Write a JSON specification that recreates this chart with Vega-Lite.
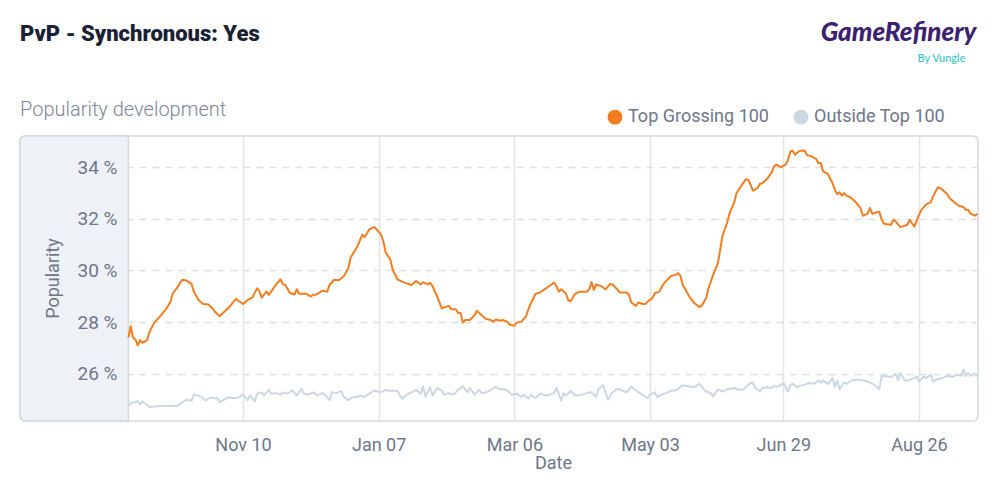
{
  "$schema": "https://vega.github.io/schema/vega-lite/v6.json",
  "width": 958,
  "height": 285,
  "autosize": {"type": "none"},
  "padding": {"left": 20, "top": 136, "right": 22, "bottom": 82},
  "background": "white",
  "title": {
    "text": "PvP - Synchronous: Yes",
    "subtitle": "Popularity development",
    "anchor": "start",
    "frame": "group",
    "font": "Roboto",
    "fontSize": 22,
    "fontWeight": 900,
    "color": "#1a2134",
    "subtitleFont": "Roboto",
    "subtitleFontSize": 20,
    "subtitleFontWeight": 300,
    "subtitleColor": "#7d8596",
    "subtitlePadding": 54,
    "offset": -102
  },
  "config": {
    "view": {"stroke": "#d3d8df", "strokeWidth": 1.5, "cornerRadius": 5},
    "font": "Roboto",
    "legend": {"labelFont": "Roboto"}
  },
  "datasets": {
    "top": [
      {"date": "2020-09-22", "series": "Top Grossing 100", "pct": 27.40},
      {"date": "2020-09-23", "series": "Top Grossing 100", "pct": 27.84},
      {"date": "2020-09-24", "series": "Top Grossing 100", "pct": 27.40},
      {"date": "2020-09-25", "series": "Top Grossing 100", "pct": 27.33},
      {"date": "2020-09-26", "series": "Top Grossing 100", "pct": 27.10},
      {"date": "2020-09-27", "series": "Top Grossing 100", "pct": 27.30},
      {"date": "2020-09-28", "series": "Top Grossing 100", "pct": 27.20},
      {"date": "2020-09-30", "series": "Top Grossing 100", "pct": 27.30},
      {"date": "2020-10-01", "series": "Top Grossing 100", "pct": 27.62},
      {"date": "2020-10-03", "series": "Top Grossing 100", "pct": 27.97},
      {"date": "2020-10-06", "series": "Top Grossing 100", "pct": 28.27},
      {"date": "2020-10-08", "series": "Top Grossing 100", "pct": 28.49},
      {"date": "2020-10-10", "series": "Top Grossing 100", "pct": 28.79},
      {"date": "2020-10-11", "series": "Top Grossing 100", "pct": 29.12},
      {"date": "2020-10-13", "series": "Top Grossing 100", "pct": 29.35},
      {"date": "2020-10-15", "series": "Top Grossing 100", "pct": 29.64},
      {"date": "2020-10-17", "series": "Top Grossing 100", "pct": 29.60},
      {"date": "2020-10-19", "series": "Top Grossing 100", "pct": 29.48},
      {"date": "2020-10-20", "series": "Top Grossing 100", "pct": 29.18},
      {"date": "2020-10-22", "series": "Top Grossing 100", "pct": 28.86},
      {"date": "2020-10-24", "series": "Top Grossing 100", "pct": 28.70},
      {"date": "2020-10-26", "series": "Top Grossing 100", "pct": 28.69},
      {"date": "2020-10-28", "series": "Top Grossing 100", "pct": 28.53},
      {"date": "2020-10-29", "series": "Top Grossing 100", "pct": 28.40},
      {"date": "2020-10-31", "series": "Top Grossing 100", "pct": 28.23},
      {"date": "2020-11-02", "series": "Top Grossing 100", "pct": 28.40},
      {"date": "2020-11-04", "series": "Top Grossing 100", "pct": 28.57},
      {"date": "2020-11-07", "series": "Top Grossing 100", "pct": 28.90},
      {"date": "2020-11-08", "series": "Top Grossing 100", "pct": 28.83},
      {"date": "2020-11-10", "series": "Top Grossing 100", "pct": 28.70},
      {"date": "2020-11-12", "series": "Top Grossing 100", "pct": 28.86},
      {"date": "2020-11-14", "series": "Top Grossing 100", "pct": 28.95},
      {"date": "2020-11-16", "series": "Top Grossing 100", "pct": 29.31},
      {"date": "2020-11-17", "series": "Top Grossing 100", "pct": 29.20},
      {"date": "2020-11-18", "series": "Top Grossing 100", "pct": 28.95},
      {"date": "2020-11-20", "series": "Top Grossing 100", "pct": 29.18},
      {"date": "2020-11-21", "series": "Top Grossing 100", "pct": 29.05},
      {"date": "2020-11-23", "series": "Top Grossing 100", "pct": 29.31},
      {"date": "2020-11-24", "series": "Top Grossing 100", "pct": 29.44},
      {"date": "2020-11-26", "series": "Top Grossing 100", "pct": 29.66},
      {"date": "2020-11-27", "series": "Top Grossing 100", "pct": 29.47},
      {"date": "2020-11-28", "series": "Top Grossing 100", "pct": 29.45},
      {"date": "2020-11-30", "series": "Top Grossing 100", "pct": 29.14},
      {"date": "2020-12-02", "series": "Top Grossing 100", "pct": 29.07},
      {"date": "2020-12-03", "series": "Top Grossing 100", "pct": 29.27},
      {"date": "2020-12-04", "series": "Top Grossing 100", "pct": 29.10},
      {"date": "2020-12-07", "series": "Top Grossing 100", "pct": 29.10},
      {"date": "2020-12-09", "series": "Top Grossing 100", "pct": 28.99},
      {"date": "2020-12-10", "series": "Top Grossing 100", "pct": 29.06},
      {"date": "2020-12-11", "series": "Top Grossing 100", "pct": 29.06},
      {"date": "2020-12-14", "series": "Top Grossing 100", "pct": 29.22},
      {"date": "2020-12-16", "series": "Top Grossing 100", "pct": 29.18},
      {"date": "2020-12-17", "series": "Top Grossing 100", "pct": 29.44},
      {"date": "2020-12-19", "series": "Top Grossing 100", "pct": 29.64},
      {"date": "2020-12-21", "series": "Top Grossing 100", "pct": 29.62},
      {"date": "2020-12-23", "series": "Top Grossing 100", "pct": 29.77},
      {"date": "2020-12-25", "series": "Top Grossing 100", "pct": 30.09},
      {"date": "2020-12-26", "series": "Top Grossing 100", "pct": 30.50},
      {"date": "2020-12-29", "series": "Top Grossing 100", "pct": 30.95},
      {"date": "2020-12-31", "series": "Top Grossing 100", "pct": 31.39},
      {"date": "2021-01-01", "series": "Top Grossing 100", "pct": 31.30},
      {"date": "2021-01-03", "series": "Top Grossing 100", "pct": 31.59},
      {"date": "2021-01-05", "series": "Top Grossing 100", "pct": 31.68},
      {"date": "2021-01-06", "series": "Top Grossing 100", "pct": 31.61},
      {"date": "2021-01-08", "series": "Top Grossing 100", "pct": 31.39},
      {"date": "2021-01-09", "series": "Top Grossing 100", "pct": 31.13},
      {"date": "2021-01-10", "series": "Top Grossing 100", "pct": 30.70},
      {"date": "2021-01-12", "series": "Top Grossing 100", "pct": 30.42},
      {"date": "2021-01-13", "series": "Top Grossing 100", "pct": 30.03},
      {"date": "2021-01-15", "series": "Top Grossing 100", "pct": 29.66},
      {"date": "2021-01-17", "series": "Top Grossing 100", "pct": 29.57},
      {"date": "2021-01-19", "series": "Top Grossing 100", "pct": 29.50},
      {"date": "2021-01-21", "series": "Top Grossing 100", "pct": 29.44},
      {"date": "2021-01-23", "series": "Top Grossing 100", "pct": 29.59},
      {"date": "2021-01-25", "series": "Top Grossing 100", "pct": 29.46},
      {"date": "2021-01-26", "series": "Top Grossing 100", "pct": 29.55},
      {"date": "2021-01-28", "series": "Top Grossing 100", "pct": 29.46},
      {"date": "2021-01-29", "series": "Top Grossing 100", "pct": 29.52},
      {"date": "2021-01-30", "series": "Top Grossing 100", "pct": 29.40},
      {"date": "2021-02-01", "series": "Top Grossing 100", "pct": 28.99},
      {"date": "2021-02-03", "series": "Top Grossing 100", "pct": 28.53},
      {"date": "2021-02-04", "series": "Top Grossing 100", "pct": 28.57},
      {"date": "2021-02-06", "series": "Top Grossing 100", "pct": 28.63},
      {"date": "2021-02-07", "series": "Top Grossing 100", "pct": 28.50},
      {"date": "2021-02-09", "series": "Top Grossing 100", "pct": 28.50},
      {"date": "2021-02-10", "series": "Top Grossing 100", "pct": 28.35},
      {"date": "2021-02-11", "series": "Top Grossing 100", "pct": 28.35},
      {"date": "2021-02-12", "series": "Top Grossing 100", "pct": 27.98},
      {"date": "2021-02-13", "series": "Top Grossing 100", "pct": 28.08},
      {"date": "2021-02-15", "series": "Top Grossing 100", "pct": 28.08},
      {"date": "2021-02-17", "series": "Top Grossing 100", "pct": 28.27},
      {"date": "2021-02-18", "series": "Top Grossing 100", "pct": 28.44},
      {"date": "2021-02-19", "series": "Top Grossing 100", "pct": 28.35},
      {"date": "2021-02-21", "series": "Top Grossing 100", "pct": 28.19},
      {"date": "2021-02-22", "series": "Top Grossing 100", "pct": 28.12},
      {"date": "2021-02-24", "series": "Top Grossing 100", "pct": 28.08},
      {"date": "2021-02-25", "series": "Top Grossing 100", "pct": 28.02},
      {"date": "2021-02-26", "series": "Top Grossing 100", "pct": 28.10},
      {"date": "2021-02-28", "series": "Top Grossing 100", "pct": 28.05},
      {"date": "2021-03-01", "series": "Top Grossing 100", "pct": 28.08},
      {"date": "2021-03-03", "series": "Top Grossing 100", "pct": 28.02},
      {"date": "2021-03-04", "series": "Top Grossing 100", "pct": 27.90},
      {"date": "2021-03-06", "series": "Top Grossing 100", "pct": 27.86},
      {"date": "2021-03-07", "series": "Top Grossing 100", "pct": 27.98},
      {"date": "2021-03-09", "series": "Top Grossing 100", "pct": 28.02},
      {"date": "2021-03-11", "series": "Top Grossing 100", "pct": 28.22},
      {"date": "2021-03-12", "series": "Top Grossing 100", "pct": 28.50},
      {"date": "2021-03-13", "series": "Top Grossing 100", "pct": 28.71},
      {"date": "2021-03-15", "series": "Top Grossing 100", "pct": 29.09},
      {"date": "2021-03-17", "series": "Top Grossing 100", "pct": 29.15},
      {"date": "2021-03-19", "series": "Top Grossing 100", "pct": 29.28},
      {"date": "2021-03-21", "series": "Top Grossing 100", "pct": 29.40},
      {"date": "2021-03-23", "series": "Top Grossing 100", "pct": 29.53},
      {"date": "2021-03-24", "series": "Top Grossing 100", "pct": 29.40},
      {"date": "2021-03-25", "series": "Top Grossing 100", "pct": 29.18},
      {"date": "2021-03-26", "series": "Top Grossing 100", "pct": 29.27},
      {"date": "2021-03-28", "series": "Top Grossing 100", "pct": 29.12},
      {"date": "2021-03-29", "series": "Top Grossing 100", "pct": 28.86},
      {"date": "2021-03-30", "series": "Top Grossing 100", "pct": 28.80},
      {"date": "2021-04-01", "series": "Top Grossing 100", "pct": 29.10},
      {"date": "2021-04-03", "series": "Top Grossing 100", "pct": 29.18},
      {"date": "2021-04-06", "series": "Top Grossing 100", "pct": 29.18},
      {"date": "2021-04-07", "series": "Top Grossing 100", "pct": 29.27},
      {"date": "2021-04-08", "series": "Top Grossing 100", "pct": 29.55},
      {"date": "2021-04-09", "series": "Top Grossing 100", "pct": 29.25},
      {"date": "2021-04-10", "series": "Top Grossing 100", "pct": 29.46},
      {"date": "2021-04-12", "series": "Top Grossing 100", "pct": 29.40},
      {"date": "2021-04-14", "series": "Top Grossing 100", "pct": 29.27},
      {"date": "2021-04-16", "series": "Top Grossing 100", "pct": 29.48},
      {"date": "2021-04-17", "series": "Top Grossing 100", "pct": 29.46},
      {"date": "2021-04-19", "series": "Top Grossing 100", "pct": 29.27},
      {"date": "2021-04-20", "series": "Top Grossing 100", "pct": 29.15},
      {"date": "2021-04-23", "series": "Top Grossing 100", "pct": 29.15},
      {"date": "2021-04-24", "series": "Top Grossing 100", "pct": 29.06},
      {"date": "2021-04-25", "series": "Top Grossing 100", "pct": 28.76},
      {"date": "2021-04-27", "series": "Top Grossing 100", "pct": 28.63},
      {"date": "2021-04-28", "series": "Top Grossing 100", "pct": 28.76},
      {"date": "2021-04-30", "series": "Top Grossing 100", "pct": 28.70},
      {"date": "2021-05-01", "series": "Top Grossing 100", "pct": 28.70},
      {"date": "2021-05-02", "series": "Top Grossing 100", "pct": 28.80},
      {"date": "2021-05-04", "series": "Top Grossing 100", "pct": 28.93},
      {"date": "2021-05-05", "series": "Top Grossing 100", "pct": 29.12},
      {"date": "2021-05-07", "series": "Top Grossing 100", "pct": 29.18},
      {"date": "2021-05-08", "series": "Top Grossing 100", "pct": 29.36},
      {"date": "2021-05-09", "series": "Top Grossing 100", "pct": 29.51},
      {"date": "2021-05-11", "series": "Top Grossing 100", "pct": 29.70},
      {"date": "2021-05-12", "series": "Top Grossing 100", "pct": 29.79},
      {"date": "2021-05-14", "series": "Top Grossing 100", "pct": 29.83},
      {"date": "2021-05-15", "series": "Top Grossing 100", "pct": 29.90},
      {"date": "2021-05-16", "series": "Top Grossing 100", "pct": 29.79},
      {"date": "2021-05-17", "series": "Top Grossing 100", "pct": 29.45},
      {"date": "2021-05-19", "series": "Top Grossing 100", "pct": 29.12},
      {"date": "2021-05-20", "series": "Top Grossing 100", "pct": 28.96},
      {"date": "2021-05-22", "series": "Top Grossing 100", "pct": 28.73},
      {"date": "2021-05-24", "series": "Top Grossing 100", "pct": 28.59},
      {"date": "2021-05-25", "series": "Top Grossing 100", "pct": 28.62},
      {"date": "2021-05-27", "series": "Top Grossing 100", "pct": 28.93},
      {"date": "2021-05-28", "series": "Top Grossing 100", "pct": 29.32},
      {"date": "2021-05-30", "series": "Top Grossing 100", "pct": 29.83},
      {"date": "2021-06-01", "series": "Top Grossing 100", "pct": 30.29},
      {"date": "2021-06-02", "series": "Top Grossing 100", "pct": 30.80},
      {"date": "2021-06-03", "series": "Top Grossing 100", "pct": 31.35},
      {"date": "2021-06-05", "series": "Top Grossing 100", "pct": 31.86},
      {"date": "2021-06-06", "series": "Top Grossing 100", "pct": 32.22},
      {"date": "2021-06-08", "series": "Top Grossing 100", "pct": 32.64},
      {"date": "2021-06-09", "series": "Top Grossing 100", "pct": 33.00},
      {"date": "2021-06-11", "series": "Top Grossing 100", "pct": 33.28},
      {"date": "2021-06-13", "series": "Top Grossing 100", "pct": 33.54},
      {"date": "2021-06-14", "series": "Top Grossing 100", "pct": 33.51},
      {"date": "2021-06-15", "series": "Top Grossing 100", "pct": 33.32},
      {"date": "2021-06-16", "series": "Top Grossing 100", "pct": 33.09},
      {"date": "2021-06-18", "series": "Top Grossing 100", "pct": 33.19},
      {"date": "2021-06-19", "series": "Top Grossing 100", "pct": 33.36},
      {"date": "2021-06-20", "series": "Top Grossing 100", "pct": 33.38},
      {"date": "2021-06-22", "series": "Top Grossing 100", "pct": 33.54},
      {"date": "2021-06-24", "series": "Top Grossing 100", "pct": 33.80},
      {"date": "2021-06-25", "series": "Top Grossing 100", "pct": 34.03},
      {"date": "2021-06-26", "series": "Top Grossing 100", "pct": 34.10},
      {"date": "2021-06-28", "series": "Top Grossing 100", "pct": 34.00},
      {"date": "2021-06-30", "series": "Top Grossing 100", "pct": 34.10},
      {"date": "2021-07-01", "series": "Top Grossing 100", "pct": 34.29},
      {"date": "2021-07-02", "series": "Top Grossing 100", "pct": 34.61},
      {"date": "2021-07-03", "series": "Top Grossing 100", "pct": 34.64},
      {"date": "2021-07-04", "series": "Top Grossing 100", "pct": 34.48},
      {"date": "2021-07-05", "series": "Top Grossing 100", "pct": 34.57},
      {"date": "2021-07-06", "series": "Top Grossing 100", "pct": 34.64},
      {"date": "2021-07-08", "series": "Top Grossing 100", "pct": 34.65},
      {"date": "2021-07-09", "series": "Top Grossing 100", "pct": 34.48},
      {"date": "2021-07-11", "series": "Top Grossing 100", "pct": 34.42},
      {"date": "2021-07-13", "series": "Top Grossing 100", "pct": 34.32},
      {"date": "2021-07-14", "series": "Top Grossing 100", "pct": 34.16},
      {"date": "2021-07-15", "series": "Top Grossing 100", "pct": 34.16},
      {"date": "2021-07-16", "series": "Top Grossing 100", "pct": 33.84},
      {"date": "2021-07-18", "series": "Top Grossing 100", "pct": 33.74},
      {"date": "2021-07-20", "series": "Top Grossing 100", "pct": 33.39},
      {"date": "2021-07-21", "series": "Top Grossing 100", "pct": 33.13},
      {"date": "2021-07-22", "series": "Top Grossing 100", "pct": 32.96},
      {"date": "2021-07-23", "series": "Top Grossing 100", "pct": 33.03},
      {"date": "2021-07-24", "series": "Top Grossing 100", "pct": 32.90},
      {"date": "2021-07-25", "series": "Top Grossing 100", "pct": 33.00},
      {"date": "2021-07-26", "series": "Top Grossing 100", "pct": 32.90},
      {"date": "2021-07-28", "series": "Top Grossing 100", "pct": 32.81},
      {"date": "2021-07-30", "series": "Top Grossing 100", "pct": 32.64},
      {"date": "2021-08-01", "series": "Top Grossing 100", "pct": 32.42},
      {"date": "2021-08-02", "series": "Top Grossing 100", "pct": 32.12},
      {"date": "2021-08-04", "series": "Top Grossing 100", "pct": 32.20},
      {"date": "2021-08-05", "series": "Top Grossing 100", "pct": 32.42},
      {"date": "2021-08-06", "series": "Top Grossing 100", "pct": 32.20},
      {"date": "2021-08-08", "series": "Top Grossing 100", "pct": 32.26},
      {"date": "2021-08-09", "series": "Top Grossing 100", "pct": 32.28},
      {"date": "2021-08-10", "series": "Top Grossing 100", "pct": 31.99},
      {"date": "2021-08-11", "series": "Top Grossing 100", "pct": 31.81},
      {"date": "2021-08-14", "series": "Top Grossing 100", "pct": 31.77},
      {"date": "2021-08-15", "series": "Top Grossing 100", "pct": 31.96},
      {"date": "2021-08-16", "series": "Top Grossing 100", "pct": 31.90},
      {"date": "2021-08-18", "series": "Top Grossing 100", "pct": 31.68},
      {"date": "2021-08-20", "series": "Top Grossing 100", "pct": 31.74},
      {"date": "2021-08-21", "series": "Top Grossing 100", "pct": 31.77},
      {"date": "2021-08-22", "series": "Top Grossing 100", "pct": 31.96},
      {"date": "2021-08-23", "series": "Top Grossing 100", "pct": 31.83},
      {"date": "2021-08-24", "series": "Top Grossing 100", "pct": 31.70},
      {"date": "2021-08-26", "series": "Top Grossing 100", "pct": 32.16},
      {"date": "2021-08-27", "series": "Top Grossing 100", "pct": 32.35},
      {"date": "2021-08-29", "series": "Top Grossing 100", "pct": 32.55},
      {"date": "2021-08-30", "series": "Top Grossing 100", "pct": 32.61},
      {"date": "2021-08-31", "series": "Top Grossing 100", "pct": 32.64},
      {"date": "2021-09-01", "series": "Top Grossing 100", "pct": 32.87},
      {"date": "2021-09-03", "series": "Top Grossing 100", "pct": 33.22},
      {"date": "2021-09-04", "series": "Top Grossing 100", "pct": 33.19},
      {"date": "2021-09-05", "series": "Top Grossing 100", "pct": 33.13},
      {"date": "2021-09-07", "series": "Top Grossing 100", "pct": 32.96},
      {"date": "2021-09-08", "series": "Top Grossing 100", "pct": 32.81},
      {"date": "2021-09-10", "series": "Top Grossing 100", "pct": 32.65},
      {"date": "2021-09-12", "series": "Top Grossing 100", "pct": 32.51},
      {"date": "2021-09-14", "series": "Top Grossing 100", "pct": 32.46},
      {"date": "2021-09-15", "series": "Top Grossing 100", "pct": 32.35},
      {"date": "2021-09-16", "series": "Top Grossing 100", "pct": 32.35},
      {"date": "2021-09-17", "series": "Top Grossing 100", "pct": 32.20},
      {"date": "2021-09-19", "series": "Top Grossing 100", "pct": 32.13},
      {"date": "2021-09-20", "series": "Top Grossing 100", "pct": 32.20}
    ],
    "outside": [
      {"date": "2020-09-22", "series": "Outside Top 100", "pct": 24.75},
      {"date": "2020-09-23", "series": "Outside Top 100", "pct": 24.86},
      {"date": "2020-09-26", "series": "Outside Top 100", "pct": 24.94},
      {"date": "2020-09-27", "series": "Outside Top 100", "pct": 24.81},
      {"date": "2020-09-28", "series": "Outside Top 100", "pct": 24.93},
      {"date": "2020-09-30", "series": "Outside Top 100", "pct": 24.80},
      {"date": "2020-10-01", "series": "Outside Top 100", "pct": 24.71},
      {"date": "2020-10-06", "series": "Outside Top 100", "pct": 24.75},
      {"date": "2020-10-13", "series": "Outside Top 100", "pct": 24.75},
      {"date": "2020-10-15", "series": "Outside Top 100", "pct": 24.90},
      {"date": "2020-10-17", "series": "Outside Top 100", "pct": 25.00},
      {"date": "2020-10-19", "series": "Outside Top 100", "pct": 24.95},
      {"date": "2020-10-20", "series": "Outside Top 100", "pct": 25.20},
      {"date": "2020-10-23", "series": "Outside Top 100", "pct": 25.11},
      {"date": "2020-10-25", "series": "Outside Top 100", "pct": 24.97},
      {"date": "2020-10-27", "series": "Outside Top 100", "pct": 25.08},
      {"date": "2020-10-28", "series": "Outside Top 100", "pct": 25.06},
      {"date": "2020-10-30", "series": "Outside Top 100", "pct": 25.05},
      {"date": "2020-10-31", "series": "Outside Top 100", "pct": 24.90},
      {"date": "2020-11-02", "series": "Outside Top 100", "pct": 25.00},
      {"date": "2020-11-04", "series": "Outside Top 100", "pct": 25.10},
      {"date": "2020-11-05", "series": "Outside Top 100", "pct": 25.06},
      {"date": "2020-11-07", "series": "Outside Top 100", "pct": 25.06},
      {"date": "2020-11-08", "series": "Outside Top 100", "pct": 25.08},
      {"date": "2020-11-10", "series": "Outside Top 100", "pct": 25.19},
      {"date": "2020-11-12", "series": "Outside Top 100", "pct": 24.98},
      {"date": "2020-11-13", "series": "Outside Top 100", "pct": 25.16},
      {"date": "2020-11-15", "series": "Outside Top 100", "pct": 24.93},
      {"date": "2020-11-16", "series": "Outside Top 100", "pct": 25.23},
      {"date": "2020-11-18", "series": "Outside Top 100", "pct": 25.28},
      {"date": "2020-11-19", "series": "Outside Top 100", "pct": 25.16},
      {"date": "2020-11-21", "series": "Outside Top 100", "pct": 25.38},
      {"date": "2020-11-22", "series": "Outside Top 100", "pct": 25.23},
      {"date": "2020-11-24", "series": "Outside Top 100", "pct": 25.25},
      {"date": "2020-11-26", "series": "Outside Top 100", "pct": 25.19},
      {"date": "2020-11-27", "series": "Outside Top 100", "pct": 25.28},
      {"date": "2020-11-29", "series": "Outside Top 100", "pct": 25.23},
      {"date": "2020-12-01", "series": "Outside Top 100", "pct": 25.35},
      {"date": "2020-12-03", "series": "Outside Top 100", "pct": 25.16},
      {"date": "2020-12-05", "series": "Outside Top 100", "pct": 25.42},
      {"date": "2020-12-06", "series": "Outside Top 100", "pct": 25.23},
      {"date": "2020-12-08", "series": "Outside Top 100", "pct": 25.19},
      {"date": "2020-12-10", "series": "Outside Top 100", "pct": 25.28},
      {"date": "2020-12-12", "series": "Outside Top 100", "pct": 25.16},
      {"date": "2020-12-14", "series": "Outside Top 100", "pct": 25.25},
      {"date": "2020-12-15", "series": "Outside Top 100", "pct": 25.19},
      {"date": "2020-12-17", "series": "Outside Top 100", "pct": 24.98},
      {"date": "2020-12-18", "series": "Outside Top 100", "pct": 25.28},
      {"date": "2020-12-20", "series": "Outside Top 100", "pct": 25.25},
      {"date": "2020-12-22", "series": "Outside Top 100", "pct": 25.33},
      {"date": "2020-12-23", "series": "Outside Top 100", "pct": 25.12},
      {"date": "2020-12-25", "series": "Outside Top 100", "pct": 24.98},
      {"date": "2020-12-27", "series": "Outside Top 100", "pct": 25.10},
      {"date": "2020-12-29", "series": "Outside Top 100", "pct": 25.10},
      {"date": "2020-12-30", "series": "Outside Top 100", "pct": 25.16},
      {"date": "2021-01-01", "series": "Outside Top 100", "pct": 25.10},
      {"date": "2021-01-03", "series": "Outside Top 100", "pct": 25.23},
      {"date": "2021-01-05", "series": "Outside Top 100", "pct": 25.35},
      {"date": "2021-01-08", "series": "Outside Top 100", "pct": 25.28},
      {"date": "2021-01-10", "series": "Outside Top 100", "pct": 25.38},
      {"date": "2021-01-12", "series": "Outside Top 100", "pct": 25.33},
      {"date": "2021-01-13", "series": "Outside Top 100", "pct": 25.35},
      {"date": "2021-01-15", "series": "Outside Top 100", "pct": 25.33},
      {"date": "2021-01-17", "series": "Outside Top 100", "pct": 25.03},
      {"date": "2021-01-19", "series": "Outside Top 100", "pct": 25.19},
      {"date": "2021-01-21", "series": "Outside Top 100", "pct": 25.28},
      {"date": "2021-01-23", "series": "Outside Top 100", "pct": 25.38},
      {"date": "2021-01-24", "series": "Outside Top 100", "pct": 25.30},
      {"date": "2021-01-25", "series": "Outside Top 100", "pct": 25.23},
      {"date": "2021-01-26", "series": "Outside Top 100", "pct": 25.51},
      {"date": "2021-01-27", "series": "Outside Top 100", "pct": 25.12},
      {"date": "2021-01-29", "series": "Outside Top 100", "pct": 25.48},
      {"date": "2021-01-30", "series": "Outside Top 100", "pct": 25.16},
      {"date": "2021-02-01", "series": "Outside Top 100", "pct": 25.45},
      {"date": "2021-02-03", "series": "Outside Top 100", "pct": 25.35},
      {"date": "2021-02-04", "series": "Outside Top 100", "pct": 25.19},
      {"date": "2021-02-06", "series": "Outside Top 100", "pct": 25.25},
      {"date": "2021-02-08", "series": "Outside Top 100", "pct": 25.19},
      {"date": "2021-02-10", "series": "Outside Top 100", "pct": 25.38},
      {"date": "2021-02-12", "series": "Outside Top 100", "pct": 25.51},
      {"date": "2021-02-14", "series": "Outside Top 100", "pct": 25.28},
      {"date": "2021-02-15", "series": "Outside Top 100", "pct": 25.45},
      {"date": "2021-02-17", "series": "Outside Top 100", "pct": 25.19},
      {"date": "2021-02-19", "series": "Outside Top 100", "pct": 25.38},
      {"date": "2021-02-20", "series": "Outside Top 100", "pct": 25.25},
      {"date": "2021-02-22", "series": "Outside Top 100", "pct": 25.28},
      {"date": "2021-02-24", "series": "Outside Top 100", "pct": 25.38},
      {"date": "2021-02-26", "series": "Outside Top 100", "pct": 25.51},
      {"date": "2021-02-28", "series": "Outside Top 100", "pct": 25.38},
      {"date": "2021-03-01", "series": "Outside Top 100", "pct": 25.42},
      {"date": "2021-03-03", "series": "Outside Top 100", "pct": 25.35},
      {"date": "2021-03-05", "series": "Outside Top 100", "pct": 25.19},
      {"date": "2021-03-07", "series": "Outside Top 100", "pct": 25.23},
      {"date": "2021-03-09", "series": "Outside Top 100", "pct": 25.10},
      {"date": "2021-03-10", "series": "Outside Top 100", "pct": 25.19},
      {"date": "2021-03-12", "series": "Outside Top 100", "pct": 25.03},
      {"date": "2021-03-13", "series": "Outside Top 100", "pct": 25.19},
      {"date": "2021-03-15", "series": "Outside Top 100", "pct": 25.06},
      {"date": "2021-03-17", "series": "Outside Top 100", "pct": 25.23},
      {"date": "2021-03-19", "series": "Outside Top 100", "pct": 25.16},
      {"date": "2021-03-21", "series": "Outside Top 100", "pct": 25.19},
      {"date": "2021-03-23", "series": "Outside Top 100", "pct": 25.25},
      {"date": "2021-03-24", "series": "Outside Top 100", "pct": 25.45},
      {"date": "2021-03-26", "series": "Outside Top 100", "pct": 24.96},
      {"date": "2021-03-27", "series": "Outside Top 100", "pct": 25.25},
      {"date": "2021-03-28", "series": "Outside Top 100", "pct": 25.16},
      {"date": "2021-03-30", "series": "Outside Top 100", "pct": 25.33},
      {"date": "2021-04-01", "series": "Outside Top 100", "pct": 25.16},
      {"date": "2021-04-04", "series": "Outside Top 100", "pct": 25.19},
      {"date": "2021-04-06", "series": "Outside Top 100", "pct": 25.25},
      {"date": "2021-04-08", "series": "Outside Top 100", "pct": 25.28},
      {"date": "2021-04-10", "series": "Outside Top 100", "pct": 25.10},
      {"date": "2021-04-11", "series": "Outside Top 100", "pct": 25.42},
      {"date": "2021-04-13", "series": "Outside Top 100", "pct": 25.55},
      {"date": "2021-04-15", "series": "Outside Top 100", "pct": 24.99},
      {"date": "2021-04-17", "series": "Outside Top 100", "pct": 25.28},
      {"date": "2021-04-19", "series": "Outside Top 100", "pct": 25.42},
      {"date": "2021-04-21", "series": "Outside Top 100", "pct": 25.35},
      {"date": "2021-04-23", "series": "Outside Top 100", "pct": 25.28},
      {"date": "2021-04-25", "series": "Outside Top 100", "pct": 25.51},
      {"date": "2021-04-27", "series": "Outside Top 100", "pct": 25.35},
      {"date": "2021-04-29", "series": "Outside Top 100", "pct": 25.23},
      {"date": "2021-05-02", "series": "Outside Top 100", "pct": 25.06},
      {"date": "2021-05-03", "series": "Outside Top 100", "pct": 25.19},
      {"date": "2021-05-05", "series": "Outside Top 100", "pct": 25.28},
      {"date": "2021-05-06", "series": "Outside Top 100", "pct": 25.10},
      {"date": "2021-05-08", "series": "Outside Top 100", "pct": 25.19},
      {"date": "2021-05-10", "series": "Outside Top 100", "pct": 25.25},
      {"date": "2021-05-12", "series": "Outside Top 100", "pct": 25.35},
      {"date": "2021-05-14", "series": "Outside Top 100", "pct": 25.35},
      {"date": "2021-05-17", "series": "Outside Top 100", "pct": 25.55},
      {"date": "2021-05-20", "series": "Outside Top 100", "pct": 25.51},
      {"date": "2021-05-22", "series": "Outside Top 100", "pct": 25.48},
      {"date": "2021-05-24", "series": "Outside Top 100", "pct": 25.61},
      {"date": "2021-05-27", "series": "Outside Top 100", "pct": 25.31},
      {"date": "2021-05-29", "series": "Outside Top 100", "pct": 25.25},
      {"date": "2021-05-30", "series": "Outside Top 100", "pct": 25.12},
      {"date": "2021-06-01", "series": "Outside Top 100", "pct": 25.40},
      {"date": "2021-06-03", "series": "Outside Top 100", "pct": 25.31},
      {"date": "2021-06-05", "series": "Outside Top 100", "pct": 25.40},
      {"date": "2021-06-08", "series": "Outside Top 100", "pct": 25.45},
      {"date": "2021-06-10", "series": "Outside Top 100", "pct": 25.38},
      {"date": "2021-06-12", "series": "Outside Top 100", "pct": 25.40},
      {"date": "2021-06-13", "series": "Outside Top 100", "pct": 25.48},
      {"date": "2021-06-15", "series": "Outside Top 100", "pct": 25.64},
      {"date": "2021-06-16", "series": "Outside Top 100", "pct": 25.66},
      {"date": "2021-06-17", "series": "Outside Top 100", "pct": 25.45},
      {"date": "2021-06-19", "series": "Outside Top 100", "pct": 25.31},
      {"date": "2021-06-20", "series": "Outside Top 100", "pct": 25.45},
      {"date": "2021-06-22", "series": "Outside Top 100", "pct": 25.48},
      {"date": "2021-06-24", "series": "Outside Top 100", "pct": 25.45},
      {"date": "2021-06-25", "series": "Outside Top 100", "pct": 25.53},
      {"date": "2021-06-26", "series": "Outside Top 100", "pct": 25.48},
      {"date": "2021-06-28", "series": "Outside Top 100", "pct": 25.57},
      {"date": "2021-06-29", "series": "Outside Top 100", "pct": 25.64},
      {"date": "2021-07-01", "series": "Outside Top 100", "pct": 25.31},
      {"date": "2021-07-02", "series": "Outside Top 100", "pct": 25.57},
      {"date": "2021-07-03", "series": "Outside Top 100", "pct": 25.61},
      {"date": "2021-07-05", "series": "Outside Top 100", "pct": 25.48},
      {"date": "2021-07-06", "series": "Outside Top 100", "pct": 25.53},
      {"date": "2021-07-08", "series": "Outside Top 100", "pct": 25.57},
      {"date": "2021-07-10", "series": "Outside Top 100", "pct": 25.64},
      {"date": "2021-07-12", "series": "Outside Top 100", "pct": 25.61},
      {"date": "2021-07-14", "series": "Outside Top 100", "pct": 25.74},
      {"date": "2021-07-15", "series": "Outside Top 100", "pct": 25.66},
      {"date": "2021-07-16", "series": "Outside Top 100", "pct": 25.74},
      {"date": "2021-07-18", "series": "Outside Top 100", "pct": 25.61},
      {"date": "2021-07-19", "series": "Outside Top 100", "pct": 25.70},
      {"date": "2021-07-20", "series": "Outside Top 100", "pct": 25.83},
      {"date": "2021-07-21", "series": "Outside Top 100", "pct": 25.50},
      {"date": "2021-07-22", "series": "Outside Top 100", "pct": 25.74},
      {"date": "2021-07-23", "series": "Outside Top 100", "pct": 25.40},
      {"date": "2021-07-25", "series": "Outside Top 100", "pct": 25.66},
      {"date": "2021-07-26", "series": "Outside Top 100", "pct": 25.61},
      {"date": "2021-07-28", "series": "Outside Top 100", "pct": 25.74},
      {"date": "2021-07-30", "series": "Outside Top 100", "pct": 25.77},
      {"date": "2021-08-01", "series": "Outside Top 100", "pct": 25.77},
      {"date": "2021-08-04", "series": "Outside Top 100", "pct": 25.70},
      {"date": "2021-08-06", "series": "Outside Top 100", "pct": 25.61},
      {"date": "2021-08-07", "series": "Outside Top 100", "pct": 25.57},
      {"date": "2021-08-09", "series": "Outside Top 100", "pct": 25.40},
      {"date": "2021-08-10", "series": "Outside Top 100", "pct": 25.90},
      {"date": "2021-08-12", "series": "Outside Top 100", "pct": 25.90},
      {"date": "2021-08-14", "series": "Outside Top 100", "pct": 25.87},
      {"date": "2021-08-16", "series": "Outside Top 100", "pct": 26.00},
      {"date": "2021-08-17", "series": "Outside Top 100", "pct": 25.74},
      {"date": "2021-08-18", "series": "Outside Top 100", "pct": 26.03},
      {"date": "2021-08-20", "series": "Outside Top 100", "pct": 25.74},
      {"date": "2021-08-21", "series": "Outside Top 100", "pct": 25.74},
      {"date": "2021-08-24", "series": "Outside Top 100", "pct": 25.83},
      {"date": "2021-08-25", "series": "Outside Top 100", "pct": 25.90},
      {"date": "2021-08-26", "series": "Outside Top 100", "pct": 25.70},
      {"date": "2021-08-28", "series": "Outside Top 100", "pct": 25.90},
      {"date": "2021-08-29", "series": "Outside Top 100", "pct": 25.83},
      {"date": "2021-08-31", "series": "Outside Top 100", "pct": 25.96},
      {"date": "2021-09-01", "series": "Outside Top 100", "pct": 25.70},
      {"date": "2021-09-03", "series": "Outside Top 100", "pct": 25.80},
      {"date": "2021-09-05", "series": "Outside Top 100", "pct": 25.83},
      {"date": "2021-09-07", "series": "Outside Top 100", "pct": 25.92},
      {"date": "2021-09-09", "series": "Outside Top 100", "pct": 25.87},
      {"date": "2021-09-11", "series": "Outside Top 100", "pct": 25.96},
      {"date": "2021-09-13", "series": "Outside Top 100", "pct": 25.92},
      {"date": "2021-09-14", "series": "Outside Top 100", "pct": 26.16},
      {"date": "2021-09-15", "series": "Outside Top 100", "pct": 25.92},
      {"date": "2021-09-16", "series": "Outside Top 100", "pct": 26.03},
      {"date": "2021-09-17", "series": "Outside Top 100", "pct": 25.92},
      {"date": "2021-09-19", "series": "Outside Top 100", "pct": 26.00},
      {"date": "2021-09-20", "series": "Outside Top 100", "pct": 25.90}
    ]
  },
  "layer": [
    {
      "data": {"values": [{"panel": "axis"}]},
      "mark": {"type": "rect", "fill": "#eef2f6", "stroke": "#d3d8df", "strokeWidth": 1.5, "cornerRadiusTopLeft": 5, "cornerRadiusBottomLeft": 5},
      "encoding": {
        "x": {"datum": {"year": 2020, "month": 8, "date": 6, "hours": 16, "utc": true}, "type": "temporal", "axis": null},
        "x2": {"datum": {"year": 2020, "month": 9, "date": 22, "utc": true}}
      }
    },
    {
      "data": {"name": "outside"},
      "mark": {"type": "line", "strokeWidth": 2, "strokeJoin": "round"},
      "encoding": {
        "x": {
          "field": "date", "type": "temporal",
          "scale": {"type": "utc", "domain": [{"year": 2020, "month": 8, "date": 6, "hours": 16, "utc": true}, {"year": 2021, "month": 9, "date": 20, "hours": 5, "utc": true}]},
          "axis": {"orient": "top", "labels": false, "ticks": false, "domain": false, "grid": false, "title": "GameRefinery", "titleX": 956, "titleY": -96, "titleAlign": "right", "titleAnchor": null, "titleBaseline": "alphabetic", "titleFont": "Lato", "titleFontStyle": "italic", "titleFontWeight": 900, "titleFontSize": 26, "titleColor": "#3b2170"}
        },
        "y": {
          "field": "pct", "type": "quantitative",
          "scale": {"domain": [24.17, 35.21], "nice": false, "zero": false},
          "axis": {"orient": "right", "labels": false, "ticks": false, "domain": false,
            "values": [26, 28, 30, 32, 34],
            "grid": true, "gridColor": "#e0e0e0", "gridDash": [7, 6], "gridWidth": 1.5,
            "title": "By Vungle", "titleAngle": 0, "titleX": -13, "titleY": -75, "titleAlign": "right", "titleAnchor": null, "titleBaseline": "alphabetic", "titleFont": "Lato", "titleFontWeight": "normal", "titleFontSize": 11, "titleColor": "#2cc4c8"}
        },
        "color": {"field": "series", "type": "nominal"}
      }
    },
    {
      "data": {"name": "top"},
      "mark": {"type": "line", "strokeWidth": 2, "strokeJoin": "round"},
      "encoding": {
        "x": {
          "field": "date", "type": "temporal", "title": "Date",
          "scale": {"type": "utc", "domain": [{"year": 2020, "month": 8, "date": 6, "hours": 16, "utc": true}, {"year": 2021, "month": 9, "date": 20, "hours": 5, "utc": true}]},
          "axis": {
            "orient": "bottom",
            "values": [
              {"year": 2020, "month": 11, "date": 10, "utc": true},
              {"year": 2021, "month": 1, "date": 7, "utc": true},
              {"year": 2021, "month": 3, "date": 6, "utc": true},
              {"year": 2021, "month": 5, "date": 3, "utc": true},
              {"year": 2021, "month": 6, "date": 29, "utc": true},
              {"year": 2021, "month": 8, "date": 26, "utc": true}
            ],
            "format": "%b %d",
            "grid": true, "gridColor": "#e3e3e3", "gridWidth": 1.5,
            "domain": false, "ticks": false,
            "labelFont": "Roboto", "labelFontSize": 18, "labelColor": "#6e7689", "labelPadding": 15,
            "titleFont": "Roboto", "titleFontSize": 18, "titleFontWeight": "normal", "titleColor": "#6e7689",
            "titleX": 533, "titleY": 47, "titleAlign": "center", "titleAnchor": null, "titleBaseline": "alphabetic"
          }
        },
        "y": {
          "field": "pct", "type": "quantitative", "title": "Popularity",
          "scale": {"domain": [24.17, 35.21], "nice": false, "zero": false},
          "axis": {
            "orient": "left", "offset": -108, "zindex": 1,
            "values": [26, 28, 30, 32, 34],
            "labelExpr": "datum.value + ' %'",
            "grid": false,
            "domain": false, "ticks": false,
            "labelFont": "Roboto", "labelFontSize": 19, "labelColor": "#6e7689", "labelPadding": 11,
            "titleFont": "Roboto", "titleFontSize": 18, "titleFontWeight": "normal", "titleColor": "#6e7689",
            "titleX": -75, "titleY": 142, "titleAngle": -90, "titleAlign": "center", "titleAnchor": null, "titleBaseline": "middle"
          }
        },
        "color": {
          "field": "series", "type": "nominal",
          "scale": {"domain": ["Top Grossing 100", "Outside Top 100"], "range": ["#f47d20", "#cbd8e2"]},
          "legend": {
            "title": null, "orient": "none", "direction": "horizontal",
            "legendX": 586, "legendY": -28,
            "symbolType": "circle", "symbolSize": 180,
            "labelFont": "Roboto", "labelFontSize": 18, "labelColor": "#6e7689",
            "labelOffset": 4, "columnPadding": 22, "padding": 0,
            "encode": {"symbols": {"update": {"fill": {"scale": "color", "field": "value"}, "stroke": {"value": "transparent"}, "opacity": {"value": 1}}}}
          }
        }
      }
    }
  ],
  "resolve": {"axis": {"x": "independent", "y": "independent"}}
}
